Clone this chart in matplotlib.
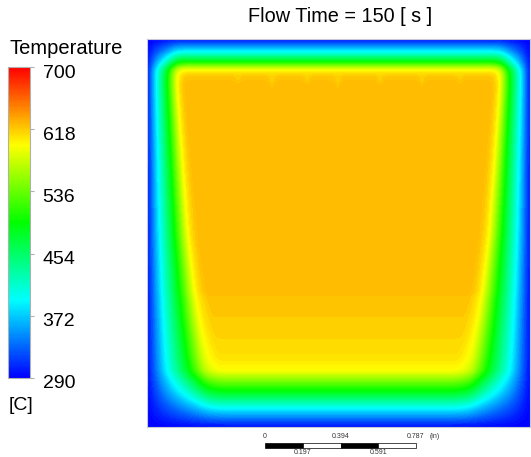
import numpy as np
import matplotlib
matplotlib.use("Agg")
import matplotlib.pyplot as plt
from matplotlib.colors import LinearSegmentedColormap, Normalize
from matplotlib import cm, transforms
from matplotlib.patches import Rectangle

plt.rcParams['font.family'] = ['Liberation Sans', 'DejaVu Sans']

# ---- data ----
title = "Flow Time = 150 [ s ]"
cbar_ticks = [290, 372, 454, 536, 618, 700]
cbar_label = "Temperature"
cbar_unit = "[C]"
domain_size_in = 2.0           # square domain, inches
wall_temp = 290.0
core_temp = 625.0

# wall-normal temperature profiles (distance from wall in inches -> T in C)
side_dist = [0.0, 0.068, 0.146, 0.214, 0.240, 0.275]
side_temp = [290, 392, 495, 597, 615, 625]
top_dist = [0.0, 0.067, 0.119, 0.160, 0.190, 0.24]
top_temp = [290, 392, 495, 597, 619, 625]
bot_dist = [0.0, 0.098, 0.191, 0.294, 0.361, 0.50, 0.67, 0.70]
bot_temp = [290, 392, 495, 597, 609, 616, 621, 625]
# thickness factor of the side layers versus height (inches from bottom)
side_scale_y = [0.0, 0.3, 0.6, 1.0, 1.4, 1.7, 1.9, 2.0]
side_scale = [1.55, 1.42, 1.22, 1.0, 0.86, 0.76, 0.71, 0.70]

# thin cooler fingers hanging from the top layer
finger_x = [0.475, 0.653, 0.836, 0.997, 1.217, 1.436, 1.634]
finger_depth = [0.237, 0.273, 0.247, 0.273, 0.253, 0.263, 0.242]
finger_temp = 614.0

scale_ticks_top = [0.0, 0.394, 0.787]
scale_ticks_bot = [0.197, 0.591]
scale_unit = "(in)"

# ---- build the field ----
n = 500
x = np.linspace(0, domain_size_in, n)
y = np.linspace(0, domain_size_in, n)
X, Y = np.meshgrid(x, y)
span = core_temp - wall_temp

def theta(d, dist, temp):
    return (np.interp(d, dist, temp) - wall_temp) / span

s = np.interp(Y, side_scale_y, side_scale)
th = (theta(X / s, side_dist, side_temp)
      * theta((domain_size_in - X) / s, side_dist, side_temp)
      * theta(domain_size_in - Y, top_dist, top_temp)
      * theta(Y, bot_dist, bot_temp))
T = wall_temp + span * th

dtop = domain_size_in - Y
for fx, fd in zip(finger_x, finger_depth):
    start = top_dist[-2] - 0.02
    frac = np.clip((dtop - start) / (fd - start), 0, 1)
    half_w = 0.022 * (1 - frac)
    inside = (np.abs(X - fx) < half_w) & (dtop > start) & (dtop < fd)
    T = np.where(inside, np.minimum(T, finger_temp), T)

# light smoothing of the kinks
k = np.exp(-0.5 * (np.arange(-8, 9) / 2.5) ** 2)
k /= k.sum()
P = np.pad(T, 8, mode="reflect")
P = np.apply_along_axis(lambda r: np.convolve(r, k, mode="valid"), 1, P)
P = np.apply_along_axis(lambda c: np.convolve(c, k, mode="valid"), 0, P)
T = P

cmap = LinearSegmentedColormap.from_list(
    "ansys", [(0, "#0000ff"), (0.25, "#00ffff"), (0.5, "#00ff00"),
              (0.75, "#ffff00"), (1, "#ff0000")])
norm = Normalize(cbar_ticks[0], cbar_ticks[-1])

W, H = 531, 457
fig = plt.figure(figsize=(W / 100, H / 100), dpi=100)

ax = fig.add_axes([147 / W, (H - 427) / H, 383 / W, 388 / H])
levels = np.linspace(cbar_ticks[0], cbar_ticks[-1], 101)
ax.contourf(X, Y, T, levels=levels, cmap=cmap, norm=norm, extend="both")
ax.set_xlim(0, domain_size_in)
ax.set_ylim(0, domain_size_in)
ax.set_xticks([])
ax.set_yticks([])
for sp in ax.spines.values():
    sp.set_color("#c8c8d8")
    sp.set_linewidth(0.8)

fig.text(340 / W, 1 - 16 / H, title, ha="center", va="center", fontsize=14.3)

# colorbar
cax = fig.add_axes([8 / W, (H - 378) / H, 22 / W, 311 / H])
sm = cm.ScalarMappable(norm=norm, cmap=cmap)
cb = fig.colorbar(sm, cax=cax, ticks=cbar_ticks)
cb.outline.set_edgecolor("#b0b0b0")
cb.outline.set_linewidth(0.8)
cax.tick_params(axis="y", length=3, width=0.8, color="#b0b0b0", pad=6,
                labelsize=14, labelcolor="black")
cax.set_yticklabels([str(t) for t in cbar_ticks])
off = transforms.ScaledTranslation(0, -4 / 100, fig.dpi_scale_trans)
for lab in cax.get_yticklabels():
    lab.set_transform(lab.get_transform() + off)
fig.text(9 / W, 1 - 48 / H, cbar_label, ha="left", va="center", fontsize=14.5)
fig.text(9 / W, 1 - 405 / H, cbar_unit, ha="left", va="center", fontsize=14)

# scale bar (x in domain inches, y in figure fraction)
tr = transforms.blended_transform_factory(ax.transData, fig.transFigure)
x0 = domain_size_in / 2 - scale_ticks_top[-1] / 2 + 0.01
edges = [0.0] + scale_ticks_bot[:1] + scale_ticks_top[1:2] + scale_ticks_bot[1:] + scale_ticks_top[2:]
for i in range(len(edges) - 1):
    r = Rectangle((x0 + edges[i], 1 - 448 / H), edges[i + 1] - edges[i], 5 / H,
                  facecolor="black" if i % 2 == 0 else "white",
                  edgecolor="black", linewidth=0.5, transform=tr, clip_on=False)
    fig.add_artist(r)
for v in scale_ticks_top:
    fig.text(x0 + v, 1 - 436 / H, f"{v:g}" if v == 0 else f"{v:.3f}",
             ha="center", va="center", fontsize=5, color="#333333", transform=tr)
for v in scale_ticks_bot:
    fig.text(x0 + v, 1 - 453 / H, f"{v:.3f}", ha="center", va="center",
             fontsize=5, color="#333333", transform=tr)
fig.text(x0 + scale_ticks_top[-1] + 0.07, 1 - 436 / H, scale_unit,
         ha="left", va="center", fontsize=5, color="#333333", transform=tr)

fig.savefig("out.png", dpi=100)
